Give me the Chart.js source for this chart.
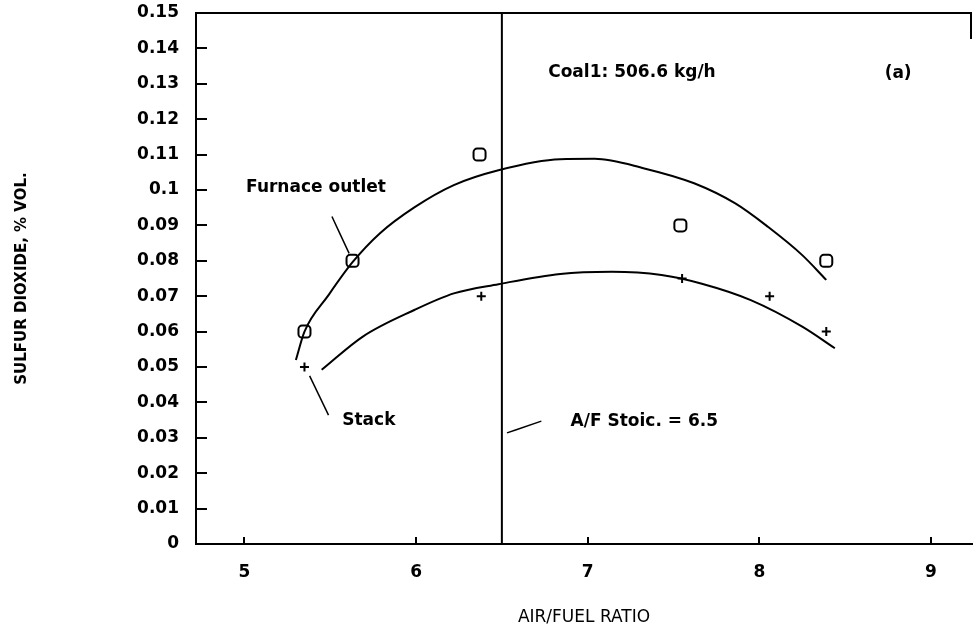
<!DOCTYPE html>
<html>
<head>
<meta charset="utf-8">
<script src="https://cdn.jsdelivr.net/npm/chart.js@4"></script>
<style>
  body { margin: 0; background: #fff; }
  canvas { display: block; }
</style>
</head>
<body>
<canvas id="myChart" width="973" height="630"></canvas>
<script>
// tick values
const xTicks = [5, 6, 7, 8, 9];
const yTicks = [0, 0.01, 0.02, 0.03, 0.04, 0.05, 0.06, 0.07, 0.08, 0.09, 0.1, 0.11, 0.12, 0.13, 0.14, 0.15];

// measured points (squares = furnace outlet, crosses = stack)
const furnaceX = [5.35, 5.63, 6.37, 7.54, 8.39];
const furnaceY = [0.06, 0.08, 0.11, 0.09, 0.08];
const stackX = [5.35, 6.38, 7.55, 8.06, 8.39];
const stackY = [0.05, 0.07, 0.075, 0.07, 0.06];

// fitted curves
const furnaceCurveX = [5.30, 5.35, 5.49, 5.63, 5.79, 5.99, 6.22, 6.48, 6.84, 7.04, 7.33, 7.62, 7.86, 8.05, 8.25, 8.39];
const furnaceCurveY = [0.052, 0.060, 0.0703, 0.0796, 0.0878, 0.0951, 0.1014, 0.1056, 0.1087, 0.1088, 0.1061, 0.1019, 0.0962, 0.0896, 0.0816, 0.0746];
const stackCurveX = [5.45, 5.69, 5.99, 6.22, 6.48, 6.84, 7.14, 7.43, 7.66, 7.95, 8.25, 8.44];
const stackCurveY = [0.0492, 0.0586, 0.0661, 0.0708, 0.0734, 0.0763, 0.0769, 0.0760, 0.0736, 0.0689, 0.0614, 0.0553];

// stoichiometric A/F line
const stoicX = [6.5, 6.5];
const stoicY = [0, 0.15];

// leader lines for the labels
const furnaceLeaderX = [5.51, 5.61];
const furnaceLeaderY = [0.0925, 0.0821];
const stackLeaderX = [5.38, 5.49];
const stackLeaderY = [0.0475, 0.0364];
const stoicLeaderX = [6.53, 6.73];
const stoicLeaderY = [0.0314, 0.0347];

// text labels in the plot
const noteTexts = ['Furnace outlet', 'Stack', 'A/F Stoic. = 6.5', 'Coal1: 506.6 kg/h', '(a)'];
const noteX = [5.01, 5.57, 6.90, 6.77, 8.73];
const noteY = [0.1008, 0.0348, 0.0345, 0.1331, 0.1330];

const FONT = "'DejaVu Sans', 'Liberation Sans', sans-serif";

function pts(xs, ys) {
    return xs.map((x, i) => ({ x: x, y: ys[i] }));
}

function lineSet(xs, ys, width) {
    return {
        data: pts(xs, ys),
        showLine: true,
        borderColor: '#000',
        borderWidth: width,
        pointRadius: 0,
        cubicInterpolationMode: 'monotone',
        fill: false
    };
}

// no extra room around the axes, the layout is fixed by hand
function noPadding(s) {
    s.getPadding = () => ({ left: 0, top: 0, right: 0, bottom: 0 });
}

// frame, inward ticks and text notes
const decor = {
    id: 'decor',
    afterDraw(chart) {
        const { ctx, chartArea: a, scales: { x, y } } = chart;
        ctx.save();
        ctx.strokeStyle = '#000';
        ctx.lineWidth = 2;
        ctx.beginPath();
        ctx.moveTo(a.left - 1, a.top);
        ctx.lineTo(a.right, a.top);
        ctx.moveTo(a.right - 1, a.top);
        ctx.lineTo(a.right - 1, a.top + 26);
        yTicks.forEach(v => {
            const py = Math.round(y.getPixelForValue(v));
            ctx.moveTo(a.left, py);
            ctx.lineTo(a.left + 11, py);
        });
        xTicks.forEach(v => {
            const px = Math.round(x.getPixelForValue(v));
            ctx.moveTo(px, a.bottom);
            ctx.lineTo(px, a.bottom - 7);
        });
        ctx.stroke();

        ctx.fillStyle = '#000';
        ctx.font = 'bold 17px ' + FONT;
        ctx.textAlign = 'left';
        ctx.textBaseline = 'middle';
        noteTexts.forEach((t, i) => {
            ctx.fillText(t, x.getPixelForValue(noteX[i]), y.getPixelForValue(noteY[i]));
        });
        ctx.restore();
    }
};

const ctx = document.getElementById('myChart').getContext('2d');
new Chart(ctx, {
    type: 'scatter',
    data: {
        datasets: [
            lineSet(furnaceCurveX, furnaceCurveY, 2),
            lineSet(stackCurveX, stackCurveY, 2),
            lineSet(stoicX, stoicY, 2),
            lineSet(furnaceLeaderX, furnaceLeaderY, 1.5),
            lineSet(stackLeaderX, stackLeaderY, 1.5),
            lineSet(stoicLeaderX, stoicLeaderY, 1.5),
            {
                label: 'Furnace outlet',
                data: pts(furnaceX, furnaceY),
                pointStyle: 'rectRounded',
                pointRadius: 7,
                borderColor: '#000',
                backgroundColor: '#fff',
                borderWidth: 2
            },
            {
                label: 'Stack',
                data: pts(stackX, stackY),
                pointStyle: 'cross',
                pointRadius: 4.5,
                borderColor: '#000',
                borderWidth: 2
            }
        ]
    },
    options: {
        responsive: false,
        devicePixelRatio: 1,
        animation: false,
        layout: { autoPadding: false, padding: { top: 13, right: 1, left: 0, bottom: 0 } },
        plugins: {
            legend: { display: false },
            tooltip: { enabled: false }
        },
        scales: {
            x: {
                type: 'linear',
                min: 4.718,
                max: 9.239,
                afterBuildTicks: s => { s.ticks = xTicks.map(v => ({ value: v })); },
                afterFit: s => { s.height = 86; noPadding(s); },
                grid: { display: false, drawTicks: false },
                border: { display: true, color: '#000', width: 2 },
                ticks: {
                    color: '#000',
                    padding: 18,
                    font: { family: FONT, size: 17, weight: 'bold' },
                    callback: v => String(v)
                },
                title: {
                    display: true,
                    text: 'AIR/FUEL RATIO',
                    color: '#000',
                    font: { family: FONT, size: 17 },
                    padding: { top: 0, bottom: 2 }
                }
            },
            y: {
                type: 'linear',
                min: 0,
                max: 0.15,
                afterBuildTicks: s => { s.ticks = yTicks.map(v => ({ value: v })); },
                afterFit: s => { s.width = 196; noPadding(s); },
                grid: { display: false, drawTicks: false },
                border: { display: true, color: '#000', width: 2 },
                ticks: {
                    color: '#000',
                    padding: 17,
                    font: { family: FONT, size: 17, weight: 'bold' },
                    callback: v => String(Number(v.toFixed(2)))
                },
                title: {
                    display: true,
                    text: 'SULFUR DIOXIDE, % VOL.',
                    color: '#000',
                    font: { family: FONT, size: 15, weight: 'bold' },
                    padding: { top: 13, bottom: 0 }
                }
            }
        }
    },
    plugins: [decor]
});
</script>
</body>
</html>
